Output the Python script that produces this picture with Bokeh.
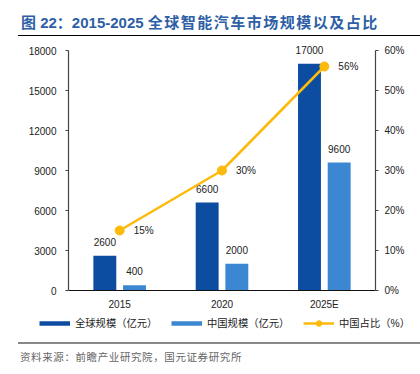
from bokeh.plotting import figure
from bokeh.layouts import column, row
from bokeh.models import (FactorRange, Range1d, LinearAxis, FixedTicker, NumeralTickFormatter,
                          ColumnDataSource, Legend, LegendItem, Div)
from bokeh.transform import dodge
from bokeh.core.properties import value
from bokeh.embed import file_html
from bokeh.resources import INLINE

years = ["2015", "2020", "2025E"]
global_size = [2600, 6600, 17000]
china_size = [400, 2000, 9600]
china_share = [0.15, 0.30, 0.56]
left_ticks = [0, 3000, 6000, 9000, 12000, 15000, 18000]
right_ticks = [0, 0.1, 0.2, 0.3, 0.4, 0.5, 0.6]
title_prefix = "图 22：2015-2025 "
title_main = "全球智能汽车市场规模以及占比"
source_text = "资料来源：前瞻产业研究院，国元证券研究所"
legend_labels = ["全球规模（亿元）", "中国规模（亿元）", "中国占比（%）"]

FONT = "Liberation Sans, Noto Sans CJK SC"
DARK = "#0C4DA2"
LIGHT = "#3B87D1"
GOLD = "#FDBA0B"
TXT = "#222222"

LEFT_MAX = 18000
RIGHT_MAX = 0.6
TOP_PAD = 900  # headroom above the axis top so the top bar label is not clipped

src = ColumnDataSource(dict(
    year=years, g=global_size, c=china_size, s=china_share,
    gl=[str(v) for v in global_size], cl=[str(v) for v in china_size],
    sl=[f"{round(v * 100)}%" for v in china_share]))

p = figure(width=412, height=278, x_range=FactorRange(*years),
           y_range=Range1d(0, LEFT_MAX + TOP_PAD),
           output_backend="svg", toolbar_location=None,
           min_border_left=68, min_border_right=37, min_border_top=2, min_border_bottom=24)
p.extra_y_ranges = {"pct": Range1d(0, RIGHT_MAX * (LEFT_MAX + TOP_PAD) / LEFT_MAX)}
p.xgrid.visible = False
p.ygrid.visible = False
p.outline_line_color = None

gbar = p.vbar(x=dodge("year", -0.145, range=p.x_range), top="g", width=0.224,
              source=src, fill_color=DARK, line_color=None)
cbar = p.vbar(x=dodge("year", 0.145, range=p.x_range), top="c", width=0.224,
              source=src, fill_color=LIGHT, line_color=None)

p.text(x=dodge("year", -0.145, range=p.x_range), y="g", text="gl", source=src,
       text_align="center", text_baseline="middle", y_offset=-14,
       text_font=value(FONT), text_font_size="10px", text_color=TXT)
p.text(x=dodge("year", 0.145, range=p.x_range), y="c", text="cl", source=src,
       text_align="center", text_baseline="middle", y_offset=-14,
       text_font=value(FONT), text_font_size="10px", text_color=TXT)

ln = p.line(x="year", y="s", y_range_name="pct", source=src, line_color=GOLD, line_width=2.5)
pt = p.scatter(x="year", y="s", y_range_name="pct", source=src, size=9,
               fill_color=GOLD, line_color=GOLD)
p.text(x="year", y="s", y_range_name="pct", text="sl", source=src,
       text_align="left", text_baseline="middle", x_offset=14,
       text_font=value(FONT), text_font_size="10px", text_color=TXT)

def style_axis(ax):
    ax.axis_line_color = "#444444"
    ax.axis_line_width = 1.2
    ax.major_tick_line_color = "#444444"
    ax.major_tick_in = 0
    ax.major_tick_out = 3
    ax.minor_tick_line_color = None
    ax.major_label_text_font = FONT
    ax.major_label_text_font_size = "10px"
    ax.major_label_text_color = TXT

yl = p.yaxis[0]
yl.ticker = FixedTicker(ticks=left_ticks)
yl.formatter = NumeralTickFormatter(format="0")
yl.bounds = (0, LEFT_MAX)
style_axis(yl)
yl.major_label_standoff = 9

yr = LinearAxis(y_range_name="pct", ticker=FixedTicker(ticks=right_ticks),
                formatter=NumeralTickFormatter(format="0%"), bounds=(0, RIGHT_MAX))
style_axis(yr)
yr.major_label_standoff = 6
p.add_layout(yr, "right")

xa = p.xaxis[0]
style_axis(xa)
xa.axis_line_color = "#111111"
xa.major_tick_out = 0
xa.major_label_standoff = 8

# legend-only strip below the chart (proxy renderers hold no visible data)
NAN = [float("nan")]
lf = figure(width=412, height=28, x_range=Range1d(0, 1), y_range=Range1d(0, 1),
            x_axis_type=None, y_axis_type=None, output_backend="svg", toolbar_location=None,
            min_border=0, outline_line_color=None)
lg1 = lf.line(x=NAN, y=NAN, line_color=DARK, line_width=4.5)
lg2 = lf.line(x=NAN, y=NAN, line_color=LIGHT, line_width=4.5)
lg3a = lf.line(x=NAN, y=NAN, line_color=GOLD, line_width=2.5)
lg3b = lf.scatter(x=NAN, y=NAN, size=9, fill_color=GOLD, line_color=GOLD)
legend = Legend(items=[LegendItem(label=legend_labels[0], renderers=[lg1]),
                       LegendItem(label=legend_labels[1], renderers=[lg2]),
                       LegendItem(label=legend_labels[2], renderers=[lg3a, lg3b])],
                orientation="horizontal", location=(39, 12),
                padding=0, margin=0, spacing=13, label_standoff=5,
                glyph_width=31, glyph_height=14, label_height=14, label_width=83,
                label_text_font=FONT, label_text_font_size="10.3px",
                label_text_color=TXT, border_line_color=None, background_fill_alpha=0)
lf.add_layout(legend)

title_div = Div(
    text=f'{title_prefix}<span style="letter-spacing:1.5px">{title_main}</span>',
    width=402, height=36, margin=(0, 0, 0, 18),
    styles={"font-family": FONT, "font-size": "15px", "font-weight": "bold",
            "color": "#2E5FA6", "line-height": "20px", "padding-top": "13px",
            "padding-left": "3px", "box-sizing": "border-box",
            "border-bottom": "1px solid #000000", "white-space": "nowrap"})

source_div = Div(
    text=source_text, width=402, height=32, margin=(0, 0, 0, 18),
    styles={"font-family": FONT, "font-size": "10.5px", "letter-spacing": "0.6px",
            "color": "#666666", "line-height": "14px", "padding-top": "6px",
            "padding-left": "2px", "box-sizing": "border-box",
            "border-top": "2px solid #888888", "white-space": "nowrap"})

layout = column(title_div, p, row(lf, spacing=0), source_div, spacing=0)

open("out.html", "w").write(file_html(layout, INLINE))
